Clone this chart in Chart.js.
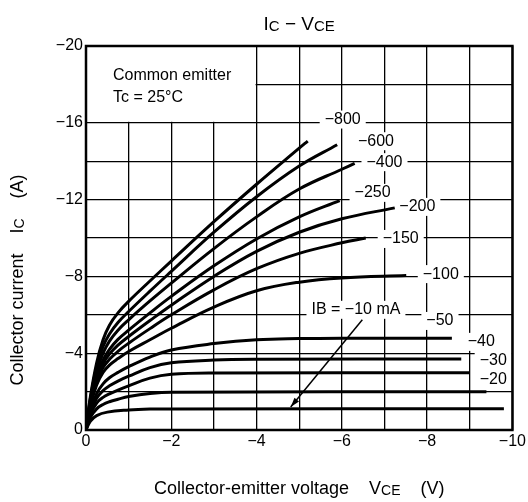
<!DOCTYPE html>
<html>
<head>
<meta charset="utf-8">
<script src="https://cdn.jsdelivr.net/npm/chart.js@4/dist/chart.umd.min.js"></script>
<style>
  body { margin: 0; background: #fff; }
  #wrap { width: 528px; height: 502px; }
</style>
</head>
<body>
<div id="wrap"><canvas id="myChart" width="528" height="502"></canvas></div>
<script>
// IC - VCE curves, one array per base current IB (mA), points are [VCE (V), IC (A)]
const ib800 = [[0,0],[-0.1,-1.7],[-0.25,-3.5],[-0.4,-4.7],[-0.55,-5.46],[-0.75,-6.1],[-1,-6.7],[-1.5,-7.76],[-2,-8.8],[-3,-10.85],[-4,-12.8],[-5,-14.68],[-5.2,-15.05]];
const ib600 = [[0,0],[-0.1,-1.6],[-0.25,-3.3],[-0.4,-4.35],[-0.55,-5.0],[-0.75,-5.6],[-1,-6.17],[-1.5,-7.23],[-2,-8.26],[-3,-10.3],[-4,-12.15],[-5,-13.75],[-5.89,-14.86]];
const ib400 = [[0,0],[-0.1,-1.5],[-0.25,-3.05],[-0.4,-4.0],[-0.55,-4.63],[-0.75,-5.2],[-1,-5.74],[-1.5,-6.72],[-2,-7.65],[-3,-9.45],[-4,-11.1],[-5,-12.55],[-6,-13.58],[-6.3,-13.89]];
const ib250 = [[0,0],[-0.1,-1.4],[-0.25,-2.85],[-0.4,-3.65],[-0.55,-4.2],[-0.75,-4.72],[-1,-5.2],[-1.5,-6.1],[-2,-6.96],[-3,-8.55],[-4,-9.95],[-5,-11.1],[-5.95,-11.95]];
const ib200 = [[0,0],[-0.1,-1.35],[-0.25,-2.7],[-0.4,-3.45],[-0.55,-3.95],[-0.75,-4.42],[-1,-4.87],[-1.5,-5.7],[-2,-6.5],[-3,-8.0],[-4,-9.3],[-5,-10.3],[-6,-11.0],[-7.24,-11.57]];
const ib150 = [[0,0],[-0.1,-1.3],[-0.25,-2.55],[-0.4,-3.25],[-0.55,-3.68],[-0.75,-4.1],[-1,-4.52],[-1.5,-5.28],[-2,-6.0],[-3,-7.3],[-4,-8.4],[-5,-9.2],[-6,-9.75],[-6.56,-10.0]];
const ib100 = [[0,0],[-0.1,-1.2],[-0.25,-2.35],[-0.4,-3.0],[-0.55,-3.38],[-0.75,-3.72],[-1,-4.09],[-1.5,-4.7],[-2,-5.3],[-3,-6.4],[-4,-7.25],[-5,-7.7],[-6,-7.92],[-7.51,-8.05]];
const ib50  = [[0,0],[-0.1,-1.0],[-0.25,-1.9],[-0.4,-2.4],[-0.55,-2.72],[-0.75,-3.0],[-1,-3.3],[-1.5,-3.8],[-2,-4.17],[-3,-4.5],[-4,-4.7],[-5,-4.76],[-6,-4.78],[-8.58,-4.78]];
const ib40  = [[0,0],[-0.1,-0.9],[-0.25,-1.65],[-0.4,-2.05],[-0.55,-2.3],[-0.75,-2.55],[-1,-2.8],[-1.5,-3.25],[-2,-3.5],[-3,-3.64],[-4,-3.68],[-8.8,-3.7]];
const ib30  = [[0,0],[-0.1,-0.8],[-0.25,-1.4],[-0.4,-1.7],[-0.55,-1.88],[-0.75,-2.08],[-1,-2.3],[-1.5,-2.7],[-2,-2.9],[-3,-2.97],[-9.0,-2.98]];
const ib20  = [[0,0],[-0.1,-0.65],[-0.25,-1.1],[-0.4,-1.33],[-0.55,-1.47],[-0.75,-1.6],[-1,-1.74],[-1.5,-1.9],[-2,-1.97],[-9.39,-1.99]];
const ib10  = [[0,0],[-0.1,-0.45],[-0.25,-0.75],[-0.5,-0.93],[-1,-1.04],[-1.5,-1.09],[-2,-1.1],[-9.8,-1.11]];

const curves = [ib800, ib600, ib400, ib250, ib200, ib150, ib100, ib50, ib40, ib30, ib20, ib10];

// curve labels and where they sit (VCE, IC)
const labelText = ['−800', '−600', '−400', '−250', '−200', '−150', '−100', '−50', '−40', '−30', '−20', 'IB = −10 mA'];
const labelV    = [-6.02, -6.8, -7.0, -6.72, -7.77, -7.38, -8.32, -8.3, -9.27, -9.55, -9.55, -6.33];
const labelI    = [-16.17, -15.04, -13.95, -12.35, -11.62, -9.95, -8.12, -5.68, -4.59, -3.64, -2.63, -6.26];

// arrow from the IB = -10 mA label to its curve
const arrowFrom = [-6.48, -5.74];
const arrowTo = [-4.8, -1.2];

const FONT = '"Liberation Sans", Arial, Helvetica, sans-serif';

function minus(v) {
	return v < 0 ? '−' + Math.abs(v) : String(v);
}

// draws text runs of mixed size on one baseline
function drawRuns(ctx, runs, cx, y) {
	let total = 0;
	runs.forEach(r => {
		ctx.font = r.size + 'px ' + FONT;
		r.w = ctx.measureText(r.t).width;
		total += r.w;
	});
	let x = cx - total / 2;
	runs.forEach(r => {
		ctx.font = r.size + 'px ' + FONT;
		ctx.fillText(r.t, x, y + (r.dy || 0));
		x += r.w;
	});
}

const overlay = {
	id: 'overlay',
	beforeDatasetsDraw(chart) {
		const ctx = chart.ctx;
		const x = chart.scales.x, y = chart.scales.y;
		ctx.save();
		ctx.fillStyle = '#fff';
		// note box in the top-left corner
		const l = x.getPixelForValue(0) + 1, r = x.getPixelForValue(-4) - 1;
		const t = y.getPixelForValue(-20) + 1, b = y.getPixelForValue(-16) - 1;
		ctx.fillRect(l, t, r - l, b - t);
		// white behind the labels
		ctx.font = '16px ' + FONT;
		labelText.forEach((txt, i) => {
			const w = ctx.measureText(txt).width;
			const px = x.getPixelForValue(labelV[i]), py = y.getPixelForValue(labelI[i]);
			ctx.fillRect(px - w / 2 - 5, py - 9, w + 10, 18);
		});
		ctx.restore();
	},
	afterDatasetsDraw(chart) {
		const ctx = chart.ctx;
		const x = chart.scales.x, y = chart.scales.y;
		const a = chart.chartArea;
		ctx.save();
		ctx.fillStyle = '#000';
		ctx.textBaseline = 'middle';
		ctx.textAlign = 'center';
		ctx.font = '16px ' + FONT;
		labelText.forEach((txt, i) => {
			ctx.fillText(txt, x.getPixelForValue(labelV[i]), y.getPixelForValue(labelI[i]));
		});

		ctx.textAlign = 'left';
		ctx.fillText('Common emitter', a.left + 27, a.top + 30);
		ctx.fillText('Tc = 25°C', a.left + 27, a.top + 52);

		// arrow
		const x1 = x.getPixelForValue(arrowFrom[0]), y1 = y.getPixelForValue(arrowFrom[1]);
		const x2 = x.getPixelForValue(arrowTo[0]), y2 = y.getPixelForValue(arrowTo[1]);
		ctx.strokeStyle = '#000';
		ctx.lineWidth = 1.5;
		ctx.beginPath();
		ctx.moveTo(x1, y1);
		ctx.lineTo(x2, y2);
		ctx.stroke();
		const ang = Math.atan2(y2 - y1, x2 - x1);
		ctx.beginPath();
		ctx.moveTo(x2, y2);
		ctx.lineTo(x2 - 10 * Math.cos(ang - 0.3), y2 - 10 * Math.sin(ang - 0.3));
		ctx.lineTo(x2 - 10 * Math.cos(ang + 0.3), y2 - 10 * Math.sin(ang + 0.3));
		ctx.closePath();
		ctx.fill();

		// frame
		ctx.lineWidth = 2.5;
		ctx.strokeRect(a.left, a.top, a.right - a.left, a.bottom - a.top);
		ctx.restore();
	},
	afterDraw(chart) {
		const ctx = chart.ctx;
		const a = chart.chartArea;
		const cx = (a.left + a.right) / 2;
		ctx.save();
		ctx.fillStyle = '#000';
		ctx.textBaseline = 'alphabetic';
		ctx.textAlign = 'left';
		drawRuns(ctx, [
			{ t: 'I', size: 19 }, { t: 'C', size: 15, dy: 1 },
			{ t: ' − V', size: 19 }, { t: 'CE', size: 15, dy: 1 }
		], cx, 30);
		drawRuns(ctx, [
			{ t: 'Collector-emitter voltage    V', size: 18 }, { t: 'CE', size: 14, dy: 1 },
			{ t: '    (V)', size: 18 }
		], cx, 494);
		ctx.translate(23, 280);
		ctx.rotate(-Math.PI / 2);
		drawRuns(ctx, [
			{ t: 'Collector current    I', size: 18 }, { t: 'C', size: 14, dy: 1 },
			{ t: '    (A)', size: 18 }
		], 0, 0);
		ctx.restore();
	}
};

const ctx = document.getElementById('myChart').getContext('2d');

const myChart = new Chart(ctx, {
	type: 'line',
	data: {
		datasets: curves.map((c, i) => ({
			label: labelText[i],
			data: c,
			borderColor: '#000',
			borderWidth: 3,
			pointRadius: 0,
			fill: false,
			tension: 0.4
		}))
	},
	options: {
		responsive: false,
		animation: false,
		layout: { padding: { top: 46, right: 15, bottom: 0, left: 0 } },
		plugins: {
			legend: { display: false },
			tooltip: { enabled: false }
		},
		scales: {
			x: {
				type: 'linear',
				min: -10,
				max: 0,
				reverse: true,
				afterFit: s => { s.height = 72; },
				border: { display: false },
				grid: { color: '#000', lineWidth: 1.3, drawTicks: false },
				ticks: {
					stepSize: 1,
					autoSkip: false,
					maxRotation: 0,
					padding: 2,
					color: '#000',
					font: { family: FONT, size: 16 },
					callback: v => (v % 2 === 0 ? minus(v) : '')
				}
			},
			y: {
				type: 'linear',
				min: -20,
				max: 0,
				reverse: true,
				afterFit: s => { s.width = 86; },
				border: { display: false },
				grid: { color: '#000', lineWidth: 1.3, drawTicks: false },
				ticks: {
					stepSize: 2,
					autoSkip: false,
					padding: 3,
					color: '#000',
					font: { family: FONT, size: 16 },
					callback: v => (v % 4 === 0 ? minus(v) : '')
				}
			}
		}
	},
	plugins: [overlay]
});
</script>
</body>
</html>
